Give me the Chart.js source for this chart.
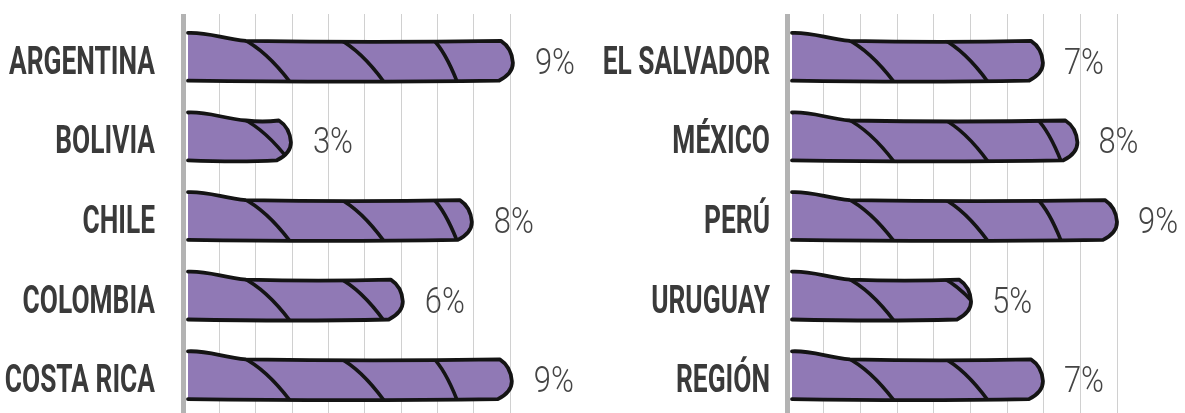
<!DOCTYPE html>
<html>
<head>
<meta charset="utf-8">
<script src="https://cdn.jsdelivr.net/npm/chart.js@4/dist/chart.umd.min.js"></script>
<style>
  html, body { margin: 0; padding: 0; background: #fff; overflow: hidden; }
  #wrap { position: relative; width: 1185px; height: 413px; overflow: hidden; }
  canvas { position: absolute; top: 0; }
</style>
</head>
<body>
<div id="wrap">
  <canvas id="leftChart" width="592" height="419" style="left:0"></canvas>
  <canvas id="rightChart" width="593" height="419" style="left:592px"></canvas>
</div>
<script>
// datos
const leftCountries = ['ARGENTINA', 'BOLIVIA', 'CHILE', 'COLOMBIA', 'COSTA RICA'];
const leftValues = [9.08, 2.97, 7.95, 6.05, 9.05];
const leftLabels = ['9%', '3%', '8%', '6%', '9%'];

const rightCountries = ['EL SALVADOR', 'MÉXICO', 'PERÚ', 'URUGUAY', 'REGIÓN'];
const rightValues = [6.98, 7.92, 9.0, 5.02, 6.98];
const rightLabels = ['7%', '8%', '9%', '5%', '7%'];

const axisMax = 9;

const purple = '#9079b5';
const ink = '#141414';

// contorno "dibujado a mano" de cada barra
function barPath(ctx, x0, x1, y, h, closed) {
  const t = y - h / 2, b = y + h / 2;
  ctx.beginPath();
  if (closed) ctx.moveTo(x0, b);
  ctx[closed ? 'lineTo' : 'moveTo'](x0, t - 8);
  ctx.bezierCurveTo(x0 + 20, t - 9, x0 + 35, t - 2, x0 + 58, t);
  ctx.quadraticCurveTo((x0 + 58 + x1 - 12) / 2, t + 2, x1 - 12, t);
  ctx.quadraticCurveTo(x1 - 1, t + 7, x1, y + 2);
  ctx.quadraticCurveTo(x1, b - 7, x1 - 14, b);
  ctx.quadraticCurveTo((x0 + x1) / 2, b + 2, x0, b);
  if (closed) ctx.closePath();
}

function stripe(ctx, sx, w, t, b) {
  ctx.beginPath();
  ctx.moveTo(sx, t - 2);
  ctx.quadraticCurveTo(sx + w * 0.5, t + 10, sx + w, b + 2);
  ctx.stroke();
}

let nameScale = null, valueScale = null;

function makePlugin(names, labels, nameGap, valueGap) {
  return {
    id: 'handBars',
    afterDatasetsDraw(chart) {
      const ctx = chart.ctx;
      const meta = chart.getDatasetMeta(0);
      const left = chart.chartArea.left;
      ctx.save();
      ctx.font = 'bold 38px Roboto';
      if (nameScale === null) nameScale = 146 / ctx.measureText('ARGENTINA').width;
      ctx.font = '300 37px Roboto';
      if (valueScale === null) valueScale = 40 / ctx.measureText('9%').width;
      ctx.restore();

      meta.data.forEach(function (el, i) {
        const x0 = el.base + 2.5, x1 = el.x, y = el.y, h = el.height;
        const t = y - h / 2, b = y + h / 2;
        const len = x1 - el.base;

        ctx.save();
        barPath(ctx, x0, x1, y, h, true);
        ctx.fillStyle = purple;
        ctx.fill();
        ctx.clip();
        ctx.strokeStyle = ink;
        ctx.lineWidth = 3.6;
        ctx.lineCap = 'round';
        stripe(ctx, el.base + 57, 48, t, b);
        stripe(ctx, el.base + 153, 46, t, b);
        if (len > 270) stripe(ctx, el.base + Math.min(247, len - 36), 25, t, b);
        ctx.restore();

        ctx.save();
        barPath(ctx, x0, x1, y, h, false);
        ctx.strokeStyle = ink;
        ctx.lineWidth = 3.8;
        ctx.lineJoin = 'round';
        ctx.lineCap = 'round';
        ctx.stroke();
        ctx.restore();

        // nombre del pais
        ctx.save();
        ctx.font = 'bold 38px Roboto';
        ctx.fillStyle = '#3a3a3a';
        ctx.textAlign = 'right';
        ctx.textBaseline = 'alphabetic';
        ctx.translate(left - nameGap, y + 13);
        ctx.scale(nameScale, 1);
        ctx.fillText(names[i], 0, 0);
        ctx.restore();

        // porcentaje
        ctx.save();
        ctx.font = '300 37px Roboto';
        ctx.fillStyle = '#454545';
        ctx.textAlign = 'left';
        ctx.textBaseline = 'alphabetic';
        ctx.translate(x1 + valueGap, y + 13);
        ctx.scale(valueScale, 1);
        ctx.fillText(labels[i], 0, 0);
        ctx.restore();
      });
    }
  };
}

function makeChart(id, names, values, labels, padLeft, padRight, nameGap, valueGap) {
  const ctx = document.getElementById(id).getContext('2d');
  return new Chart(ctx, {
    type: 'bar',
    data: {
      labels: names,
      datasets: [{
        data: values,
        backgroundColor: 'rgba(0,0,0,0)',
        borderWidth: 0,
        barPercentage: 0.5,
        categoryPercentage: 1
      }]
    },
    options: {
      indexAxis: 'y',
      responsive: false,
      animation: false,
      layout: { padding: { left: padLeft, right: padRight, top: 14, bottom: 0 } },
      plugins: { legend: { display: false }, tooltip: { enabled: false } },
      scales: {
        x: {
          position: 'top',
          min: 0,
          max: axisMax,
          ticks: { display: false, stepSize: 1 },
          grid: {
            color: (c) => c.index === 0 ? '#b3b3b3' : '#d0d0d0',
            lineWidth: (c) => c.index === 0 ? 5 : 1,
            tickLength: 7
          },
          border: { display: false }
        },
        y: {
          display: false
        }
      }
    },
    plugins: [makePlugin(names, labels, nameGap, valueGap)]
  });
}

makeChart('leftChart', leftCountries, leftValues, leftLabels, 183, 82, 28, 22);
makeChart('rightChart', rightCountries, rightValues, rightLabels, 195, 68, 17, 21);
</script>
</body>
</html>
